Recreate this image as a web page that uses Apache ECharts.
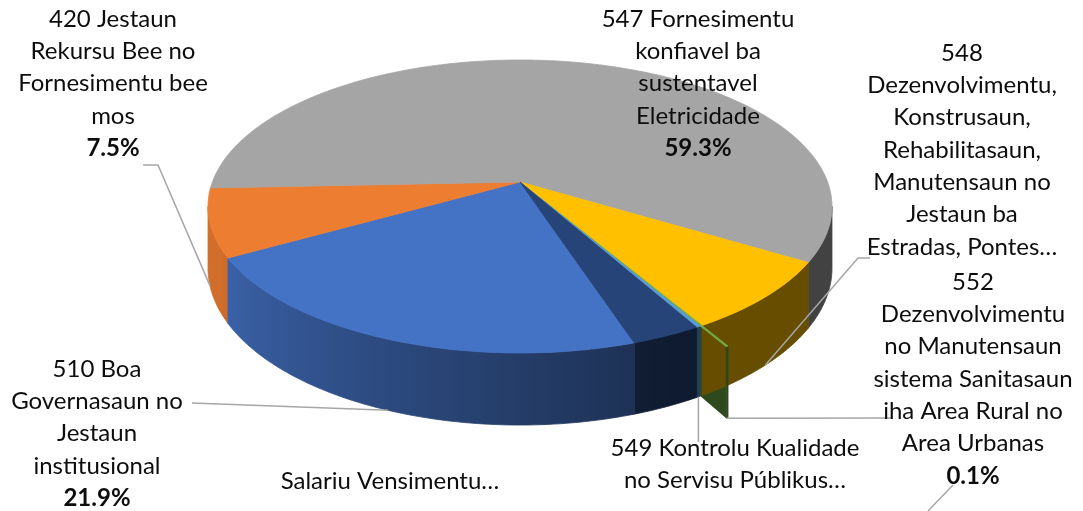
<!DOCTYPE html>
<html><head><meta charset="utf-8">
<script src="https://cdn.jsdelivr.net/npm/echarts@6/dist/echarts.min.js"></script>
<style>html,body{margin:0;padding:0;background:#fff}#c{width:1083px;height:511px}</style>
</head><body><div id="c"></div>
<script>
// Slices in clockwise drawing order
const categories = [
  '510 Boa\nGovernasaun no\nJestaun\ninstitusional',
  '420 Jestaun\nRekursu Bee no\nFornesimentu bee\nmos',
  '547 Fornesimentu\nkonfiavel ba\nsustentavel\nEletricidade',
  '548\nDezenvolvimentu,\nKonstrusaun,\nRehabilitasaun,\nManutensaun no\nJestaun ba\nEstradas, Pontes…',
  '552\nDezenvolvimentu\nno Manutensaun\nsistema Sanitasaun\niha Area Rural no\nArea Urbanas',
  '549 Kontrolu Kualidade\nno Servisu Públikus…',
  'Salariu Vensimentu…'
];
const values = [21.9, 7.5, 59.3, 7.9, 0.1, 0.2, 3.1];
const percentLabels = ['21.9%', '7.5%', '59.3%', '', '0.1%', '', ''];
const colors = ['#4472C4', '#ED7D31', '#A5A5A5', '#FFC000', '#70AD47', '#5B9BD5', '#264478'];
const explode = [0, 0, 0, 0, 0.12, 0, 0];

// label layout: [centerX, topY]
const labelPos = [[97, 353], [113, 3], [698, 3], [962, 37], [973, 266], [735, 432], [390, 465]];

// projection of the tilted disc
const G = {cx: 520, cy: 182, A: 307.6, B: 142.4, k: 0.1672, H: 60};
const START = 161.8;
const SIL = [99.6, 260.4];
function P(u, v, h) { const w = 1 - G.k * v; return [G.cx + G.A * u / w, G.cy + (G.B * v + G.H * h) / w]; }
function dir(deg) { const a = deg * Math.PI / 180; return [Math.sin(a), -Math.cos(a)]; }
function rim(off, r, deg, h) { const d = dir(deg); return P(off[0] + r * d[0], off[1] + r * d[1], h); }
function hexRgb(c) { return [parseInt(c.slice(1, 3), 16), parseInt(c.slice(3, 5), 16), parseInt(c.slice(5, 7), 16)]; }
function dark(c, s) { return 'rgb(' + hexRgb(c).map(x => Math.round(x * s)).join(',') + ')'; }
function shade(phi) { phi = ((phi % 360) + 360) % 360; if (phi <= 155) return 0.4; if (phi >= 245) return 0.88; return 0.4 + (phi - 155) / 90 * 0.48; }

const total = values.reduce((a, b) => a + b, 0);
let acc = START;
const slices = values.map(v => { const a0 = acc, a1 = acc + v / total * 360; acc = a1; return {a0, a1, mid: (a0 + a1) / 2}; });
const offs = slices.map((s, i) => dir(s.mid).map(x => x * explode[i]));

function buildSlice(i) {
  const s = slices[i], col = colors[i], off = offs[i];
  const out = [];
  const n = Math.max(2, Math.ceil(s.a1 - s.a0));
  const top = [P(off[0], off[1], 0)];
  for (let j = 0; j <= n; j++) top.push(rim(off, 1, s.a0 + (s.a1 - s.a0) * j / n, 0));
  out.push({type: 'polygon', shape: {points: top}, style: {fill: col, stroke: col, lineWidth: 0.8}, z2: 300});
  for (const base of [0, 360]) {
    const lo = Math.max(s.a0, SIL[0] + base), hi = Math.min(s.a1, SIL[1] + base);
    if (hi <= lo) continue;
    const m = Math.max(2, Math.ceil(hi - lo));
    const tp = [], bt = [];
    for (let j = 0; j <= m; j++) { const a = lo + (hi - lo) * j / m; tp.push(rim(off, 1, a, 0)); bt.push(rim(off, 1, a, 1)); }
    const x0 = tp[0][0], x1 = tp[m][0];
    const stops = [];
    for (let j = 0; j <= m; j++) {
      const a = lo + (hi - lo) * j / m;
      const o = Math.abs(x1 - x0) < 0.01 ? j / m : (tp[j][0] - x0) / (x1 - x0);
      stops.push({offset: Math.min(1, Math.max(0, o)), color: dark(col, shade(a))});
    }
    const grad = new echarts.graphic.LinearGradient(x0, 0, x1 === x0 ? x0 + 1 : x1, 0, stops, true);
    const midv = (lo + hi) / 2 - base;
    out.push({type: 'polygon', shape: {points: tp.concat(bt.slice().reverse())},
      style: {fill: grad, stroke: grad, lineWidth: 0.8}, z2: 100 - Math.abs(midv - 180)});
  }
  if (explode[i] > 0) {
    const pts = [rim(off, 0, s.a1, 0), rim(off, 1, s.a1, 0), rim(off, 1, s.a1, 1), rim(off, 0, s.a1, 1)];
    out.push({type: 'polygon', shape: {points: pts}, style: {fill: dark(col, 0.42)}, z2: 100 - Math.abs(s.a1 - 180)});
  }
  return out;
}

// leader lines (anchored on the slice geometry)
const anc = i => rim(offs[i], 1, slices[i].mid, 1);
const leaders = [
  [[192, 403], anc(0)],
  [[143, 165], [158, 165], anc(1)],
  [[870, 258], [858, 258], anc(3)],
  [rim(offs[4], 1, slices[4].a1, 1), [892, 418]],
  [anc(5), [anc(5)[0], 442]],
  [[953, 485], [928, 511]]
];

const FONT = 'Lato';
const FS = 24;
const LH = 32.3;
const graphics = [];
categories.forEach((c, i) => {
  let txt = c;
  if (percentLabels[i]) txt += '\n{b|' + percentLabels[i] + '}';
  graphics.push({type: 'text', x: labelPos[i][0], y: labelPos[i][1], z: 100,
    style: {text: txt, fill: '#0d0d0d', font: FS + 'px ' + FONT, lineHeight: LH, align: 'center', verticalAlign: 'top',
      rich: {b: {fontWeight: 'bold', fontSize: FS, fontFamily: FONT, lineHeight: LH, fill: '#0d0d0d'}}}});
});
leaders.forEach(pts => graphics.push({type: 'polyline', z: 90, shape: {points: pts}, style: {stroke: '#A6A6A6', lineWidth: 1.5, fill: null}}));

const chart = echarts.init(document.getElementById('c'), null, {renderer: 'canvas'});
chart.setOption({
  animation: false,
  backgroundColor: '#fff',
  graphic: {elements: graphics},
  series: [{
    type: 'custom', coordinateSystem: 'none', silent: true,
    data: values.map((v, i) => ({name: categories[i], value: v})),
    renderItem: (params) => ({type: 'group', children: buildSlice(params.dataIndex)})
  }]
});
</script></body></html>
